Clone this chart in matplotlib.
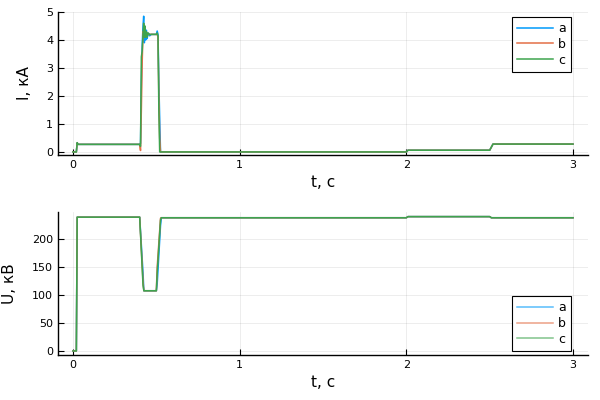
import matplotlib
matplotlib.use("Agg")
import matplotlib.pyplot as plt

# ---- data ----
series_names = ["a", "b", "c"]
colors = ["#009AFA", "#E36F47", "#3EA44E"]

t_i = [0.0, 0.02, 0.025, 0.03, 0.40, 0.405, 0.41, 0.415, 0.42, 0.424, 0.428, 0.432,
       0.436, 0.44, 0.445, 0.45, 0.46, 0.47, 0.48, 0.49, 0.50, 0.505, 0.51, 0.515,
       0.52, 0.525, 0.53, 2.0, 2.01, 2.50, 2.52, 3.0]
i_a = [0.0, 0.0, 0.33, 0.27, 0.27, 0.30, 2.5, 3.8, 4.5, 4.85, 3.9, 4.45, 4.0,
       4.35, 4.05, 4.25, 4.15, 4.2, 4.2, 4.2, 4.2, 4.32, 4.2, 2.5, 1.2, 0.0, 0.0,
       0.0, 0.06, 0.06, 0.28, 0.28]
i_b = [0.0, 0.0, 0.33, 0.27, 0.27, 0.05, 1.5, 3.2, 4.3, 4.25, 4.4, 4.1, 4.3,
       4.15, 4.25, 4.2, 4.2, 4.2, 4.2, 4.2, 4.2, 4.2, 4.1, 2.0, 0.5, 0.0, 0.0,
       0.0, 0.06, 0.06, 0.28, 0.28]
i_c = [0.0, 0.0, 0.33, 0.27, 0.27, 0.20, 3.4, 3.6, 4.2, 4.6, 4.1, 4.5, 4.1,
       4.3, 4.1, 4.25, 4.2, 4.2, 4.2, 4.2, 4.2, 4.25, 4.15, 1.5, 0.0, 0.0, 0.0,
       0.0, 0.06, 0.06, 0.28, 0.28]

t_u = [0.0, 0.02, 0.025, 0.40, 0.42, 0.425, 0.50, 0.505, 0.525, 0.53, 2.0, 2.01,
       2.50, 2.51, 3.0]
u_a = [0.0, 0.0, 240, 240, 140, 108, 108, 120, 225, 239, 239, 241, 241, 239, 239]
u_b = [0.0, 0.0, 240, 240, 125, 108, 108, 150, 238, 239, 239, 241, 241, 239, 239]
u_c = [0.0, 0.0, 240, 240, 118, 108, 108, 140, 235, 239, 239, 241, 241, 239, 239]

x_ticks = [0, 1, 2, 3]
i_ticks = [0, 1, 2, 3, 4, 5]
u_ticks = [0, 50, 100, 150, 200]

# ---- plot ----
plt.rcParams['font.family'] = ['DejaVu Sans']
fig = plt.figure(figsize=(6, 4), dpi=100)
ax1 = fig.add_axes([0.0967, 0.6125, 0.8833, 0.3575])
ax2 = fig.add_axes([0.0967, 0.1125, 0.8833, 0.3575])

def style(ax, yticks, ylabel, ylim, loc, anchor, label_x, handle_alpha):
    for s in ["top", "right"]:
        ax.spines[s].set_visible(False)
    for s in ["left", "bottom"]:
        ax.spines[s].set_linewidth(1.0)
        ax.spines[s].set_color("black")
    ax.set_xlim(-0.09, 3.09)
    ax.set_ylim(*ylim)
    ax.set_xticks(x_ticks)
    ax.set_yticks(yticks)
    ax.tick_params(direction="in", length=4, width=0.8, labelsize=8,
                   colors="black")
    ax.grid(True, color="black", alpha=0.1, linewidth=0.5)
    ax.set_axisbelow(True)
    ax.set_xlabel("t, с", fontsize=11)
    ax.set_ylabel(ylabel, fontsize=11)
    ax.yaxis.set_label_coords(label_x, 0.5)
    leg = ax.legend(loc=loc, bbox_to_anchor=anchor,
                    fontsize=9, frameon=True, fancybox=False, edgecolor="black",
                    framealpha=1, handlelength=2.9, handletextpad=0.4,
                    borderpad=0.4, labelspacing=0.22, borderaxespad=0.0)
    leg.get_frame().set_linewidth(0.8)
    for h in leg.get_lines():
        h.set_alpha(handle_alpha)

for ys, c, n in zip([i_a, i_b, i_c], colors, series_names):
    ax1.plot(t_i, ys, color=c, lw=1.1, label=n)
for ys, c, n in zip([u_a, u_b, u_c], colors, series_names):
    ax2.plot(t_u, ys, color=c, lw=1.1, label=n)

style(ax1, i_ticks, "I, кА", (-0.11, 5.0), "upper right", (0.968, 0.965), -0.049, 1.0)
style(ax2, u_ticks, "U, кВ", (-7.3, 249.3), "lower right", (0.968, 0.03), -0.078, 0.65)

fig.savefig("out.png", dpi=100)
